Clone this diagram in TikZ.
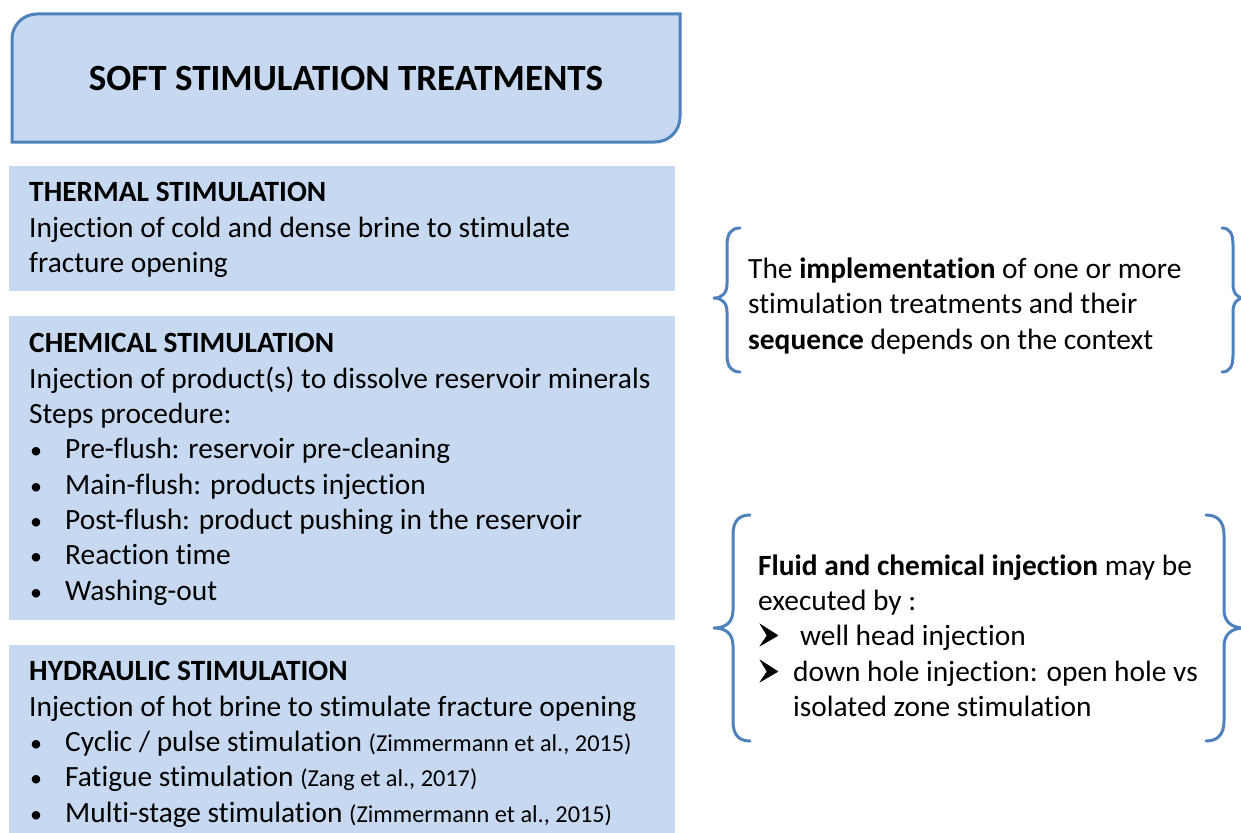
\documentclass[tikz,border=0pt]{standalone}
\usepackage{fontspec}
\setmainfont{Carlito}[Ligatures=NoCommon]
\definecolor{panel}{HTML}{C6D9F1}
\definecolor{edge}{HTML}{4F81BD}
\newcommand\refsize{\fontsize{24.3}{30}\selectfont}

\begin{document}
\begin{tikzpicture}[x=1pt,y=-1pt,
  body/.style={anchor=base west, inner sep=0pt, font=\fontsize{29.4}{35}\selectfont},
  head/.style={body, font=\bfseries\fontsize{29.4}{35}\selectfont},
  dot/.style={anchor=base west, inner sep=0pt, font=\fontsize{24}{35}\selectfont},
  panelbox/.style={fill=panel, draw=none, anchor=north west, inner sep=0pt},
  bracepath/.style={draw=edge, line width=3pt, line cap=round, line join=round},
  dart/.style={fill=black, draw=black, line width=0.4pt, line join=miter}]

\useasboundingbox (0,0) rectangle (1241,832);

% title box: top-left and bottom-right corners rounded
\draw[draw=edge, line width=3pt, fill=panel]
  (12,142) -- (12,39) .. controls (12,25.2) and (23.2,14) .. (37,14)
  -- (680,14) -- (680,117) .. controls (680,130.8) and (668.8,142) .. (655,142) -- cycle;
\node[font=\bfseries\fontsize{37}{42}\selectfont] (title) at (346,79) {SOFT STIMULATION TREATMENTS};

% treatment panels
\node[panelbox, minimum width=666pt, minimum height=125pt] (thermal) at (9,166) {};
\node[panelbox, minimum width=666pt, minimum height=304pt] (chemical) at (9,316) {};
\node[panelbox, minimum width=666pt, minimum height=190pt] (hydraulic) at (9,645) {};

% thermal
\node[head] (th1) at (29,201) {THERMAL STIMULATION};
\node[body] (th2) at (29,237) {Injection of cold and dense brine to stimulate};
\node[body] (th3) at (29,272) {fracture opening};

% chemical
\node[head] (ch1) at (29,352) {CHEMICAL STIMULATION};
\node[body] (ch2) at (29,388) {Injection of product(s) to dissolve reservoir minerals};
\node[body] (ch3) at (29,423) {Steps procedure:};
\foreach \yy/\txt/\nm in {458/{Pre-flush: reservoir pre-cleaning}/a,
                         494/{Main-flush: products injection}/b,
                         529/{Post-flush: product pushing in the reservoir}/c,
                         564/{Reaction time}/d,
                         600/{Washing-out}/e}{
  \node[dot] (chb\nm) at (30,\yy) {•};
  \node[body] (cht\nm) at (65,\yy) {\txt};
}

% hydraulic
\node[head] (hy1) at (29,680) {HYDRAULIC STIMULATION};
\node[body] (hy2) at (29,716) {Injection of hot brine to stimulate fracture opening};
\node[dot] (hyba) at (30,751) {•};
\node[body] (hyta) at (65,751) {Cyclic / pulse stimulation {\refsize(Zimmermann et al., 2015)}};
\node[dot] (hybb) at (30,786) {•};
\node[body] (hytb) at (65,786) {Fatigue stimulation {\refsize(Zang et al., 2017)}};
\node[dot] (hybc) at (30,822) {•};
\node[body] (hytc) at (65,822) {Multi-stage stimulation {\refsize(Zimmermann et al., 2015)}};

% first bracketed note
\draw[bracepath] (740,228) .. controls (731,228) and (727,234) .. (727,245) -- (727,284)
  .. controls (727,293) and (722,298) .. (714,298)
  .. controls (722,298) and (727,303) .. (727,312) -- (727,355)
  .. controls (727,366) and (731,372) .. (740,372);
\draw[bracepath] (1222,228) .. controls (1230,228) and (1233,234) .. (1233,245) -- (1233,284)
  .. controls (1233,293) and (1237,298) .. (1244,298)
  .. controls (1237,298) and (1233,303) .. (1233,312) -- (1233,355)
  .. controls (1233,366) and (1230,372) .. (1222,372);
\node[body] (n1a) at (748,278) {The \textbf{implementation} of one or more};
\node[body] (n1b) at (748,313) {stimulation treatments and their};
\node[body] (n1c) at (748,349) {\textbf{sequence} depends on the context};

% second bracketed note
\draw[bracepath] (750,515) .. controls (738,515) and (733,522) .. (733,535) -- (733,610)
  .. controls (733,622) and (726,628) .. (714,628)
  .. controls (726,628) and (733,634) .. (733,646) -- (733,721)
  .. controls (733,734) and (738,741) .. (750,741);
\draw[bracepath] (1206,515) .. controls (1218,515) and (1224,522) .. (1224,535) -- (1224,610)
  .. controls (1224,622) and (1232,628) .. (1244,628)
  .. controls (1232,628) and (1224,634) .. (1224,646) -- (1224,721)
  .. controls (1224,734) and (1218,741) .. (1206,741);
\node[body] (n2a) at (758,575) {\textbf{Fluid and chemical injection} may be};
\node[body] (n2b) at (758,610) {executed by :};
% arrowhead bullets
\foreach \yy in {645,681}{
  \fill[dart] (760,\yy-21) -- (778,\yy-9.5) -- (760,\yy+1) -- (767,\yy-9.5) -- cycle;
}
\node[body] (n2d) at (800,645) {well head injection};
\node[body] (n2f) at (793,681) {down hole injection: open hole vs};
\node[body] (n2g) at (793,716) {isolated zone stimulation};

\end{tikzpicture}
\end{document}
